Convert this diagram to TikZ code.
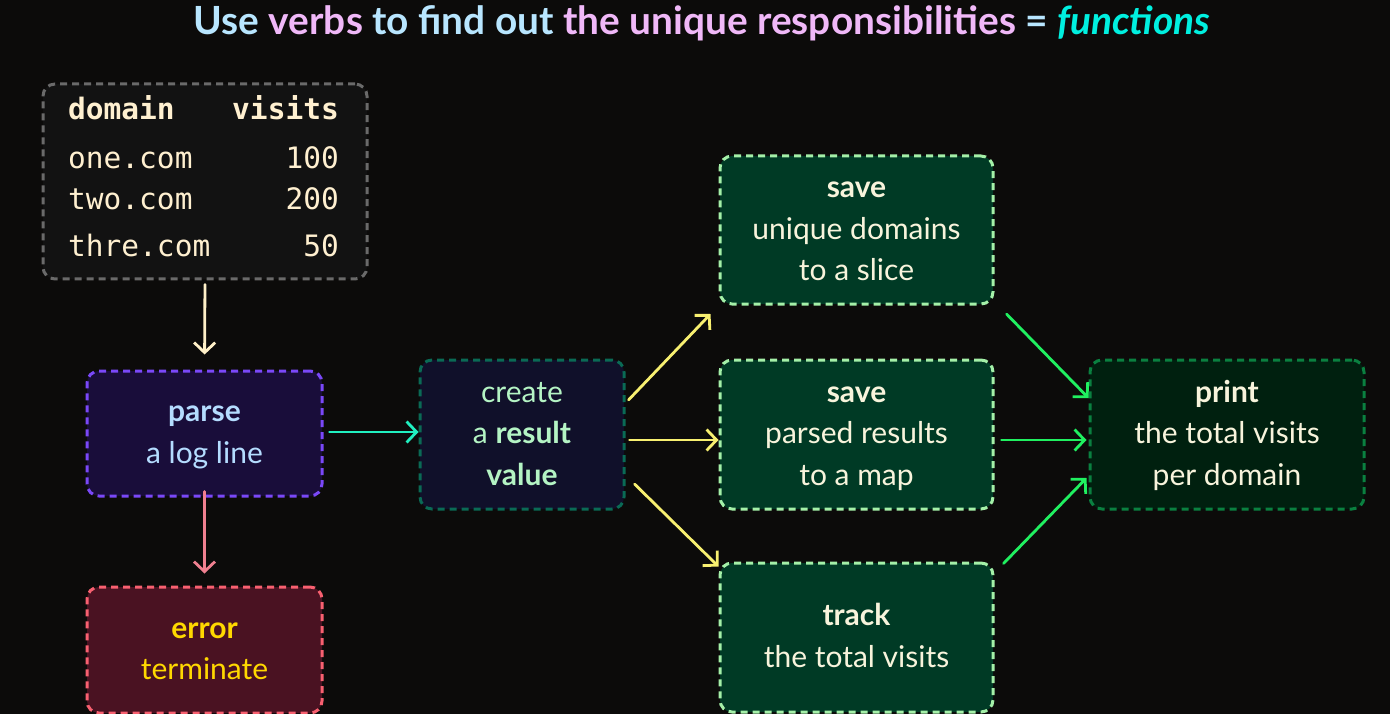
\documentclass[tikz,border=0pt]{standalone}
\usepackage{fontspec}
\setmainfont{Lato}
\setmonofont{DejaVu Sans Mono}
\usetikzlibrary{arrows.meta,calc}
\definecolor{bg}{HTML}{0C0B0A}
\definecolor{tblue}{HTML}{B8E6FF}
\definecolor{tpink}{HTML}{F0B8F8}
\definecolor{tcyan}{HTML}{00F0E0}
\definecolor{cream}{HTML}{FFF0D0}
\definecolor{tblfill}{HTML}{121212}
\definecolor{tblborder}{HTML}{6A6A6A}
\definecolor{parsefill}{HTML}{190D3A}
\definecolor{parseborder}{HTML}{7A48F8}
\definecolor{parsetext}{HTML}{B4DCFF}
\definecolor{errfill}{HTML}{4A1222}
\definecolor{errborder}{HTML}{F86070}
\definecolor{errtext}{HTML}{FFD800}
\definecolor{crfill}{HTML}{10102A}
\definecolor{crborder}{HTML}{0A6A55}
\definecolor{crtext}{HTML}{B4F4C4}
\definecolor{svfill}{HTML}{003A25}
\definecolor{svborder}{HTML}{A4F0A8}
\definecolor{svtext}{HTML}{F8F4DC}
\definecolor{prfill}{HTML}{00200F}
\definecolor{prborder}{HTML}{0A8040}
\definecolor{acream}{HTML}{FFF0C8}
\definecolor{apink}{HTML}{F08090}
\definecolor{acyan}{HTML}{20F0C0}
\definecolor{ayellow}{HTML}{F8F070}
\definecolor{agreen}{HTML}{20F060}
\newcommand{\topstrut}{\rule{0pt}{27pt}}
\newcommand{\botstrut}{\rule[-9pt]{0pt}{9pt}}
\begin{document}
\begin{tikzpicture}[x=1pt,y=-1pt,
  box/.style={draw, line width=3pt, dash pattern=on 7pt off 5pt, rounded corners=12pt,
    align=center, inner sep=0pt, font=\fontsize{30}{41.5}\selectfont},
  conn/.style={line width=2.8pt, line cap=round, -{Straight Barb[length=10pt,width=21pt,line width=2.8pt]}},
  tbl/.style={font=\ttfamily\fontsize{29.5}{30}\selectfont, text=cream, inner sep=0pt}]
\fill[bg] (0,0) rectangle (1390,714);
\useasboundingbox (0,0) rectangle (1390,714);
% title
\node[font=\bfseries\fontsize{38.8}{42}\selectfont, inner sep=0pt] (title) at (702,23)
  {\textcolor{tblue}{Use} \textcolor{tpink}{verbs} \textcolor{tblue}{to find out} \textcolor{tpink}{the unique responsibilities} \textcolor{tblue}{=} \textcolor{tcyan}{\itshape functions}};
% table
\node[box, draw=tblborder, fill=tblfill, minimum width=324pt, minimum height=195pt] (table) at (205,181.5) {};
\node[tbl, anchor=base west, font=\ttfamily\bfseries\fontsize{29.5}{30}\selectfont] (h1) at (68,120) {domain};
\node[tbl, anchor=base east, font=\ttfamily\bfseries\fontsize{29.5}{30}\selectfont] (h2) at (339,120) {visits};
\node[tbl, anchor=base west] (r1a) at (68,169) {one.com};
\node[tbl, anchor=base east] (r1b) at (339,169) {100};
\node[tbl, anchor=base west] (r2a) at (68,210) {two.com};
\node[tbl, anchor=base east] (r2b) at (339,210) {200};
\node[tbl, anchor=base west] (r3a) at (68,257) {thre.com};
\node[tbl, anchor=base east] (r3b) at (339,257) {50};
% boxes
\node[box, draw=parseborder, fill=parsefill, text=parsetext, minimum width=235pt, minimum height=125pt] (parse) at (204.5,433.5) {\topstrut\textbf{parse}\\a log line\botstrut};
\node[box, draw=errborder, fill=errfill, text=errtext, minimum width=235pt, minimum height=126pt] (error) at (204.5,650) {\topstrut\textbf{error}\\terminate\botstrut};
\node[box, draw=crborder, fill=crfill, text=crtext, minimum width=204pt, minimum height=149pt] (create) at (522,434.5) {\topstrut create\\a \textbf{result}\\\textbf{value}\botstrut};
\node[box, draw=svborder, fill=svfill, text=svtext, minimum width=273pt, minimum height=148pt] (save1) at (856.5,230) {\topstrut\textbf{save}\\unique domains\\to a slice\botstrut};
\node[box, draw=svborder, fill=svfill, text=svtext, minimum width=273pt, minimum height=149pt] (save2) at (856.5,434.5) {\topstrut\textbf{save}\\parsed results\\to a map\botstrut};
\node[box, draw=svborder, fill=svfill, text=svtext, minimum width=273pt, minimum height=149pt] (track) at (856.5,637.5) {\topstrut\textbf{track}\\the total visits\botstrut};
\node[box, draw=prborder, fill=prfill, text=svtext, minimum width=274pt, minimum height=149pt] (print) at (1227,434.5) {\topstrut\textbf{print}\\the total visits\\per domain\botstrut};
% connectors
\draw[conn, acream, shorten <=4pt, shorten >=15pt] (table.south) -- (parse.north);
\draw[conn, apink, shorten <=-6pt, shorten >=12pt] (parse.south) -- (error.north);
\draw[conn, acyan, shorten <=6pt] ($(parse.east)+(0,-1.5)$) -- ($(create.west)+(0,-2.5)$);
\draw[conn, ayellow] ($(create.east)+(3,-34.5)$) -- ($(save1.south west)+(-8,8.5)$);
\draw[conn, ayellow] ($(create.east)+(4,5.5)$) -- ($(save2.west)+(0,5.5)$);
\draw[conn, ayellow] ($(create.east)+(9,49.5)$) -- ($(track.north west)+(0,5)$);
\draw[conn, agreen] ($(save1.south east)+(12,8.5)$) -- ($(print.west)+(0,-36.5)$);
\draw[conn, agreen] ($(save2.east)+(7,5.5)$) -- ($(print.west)+(-2,5.5)$);
\draw[conn, agreen] ($(track.north east)+(9,2)$) -- ($(print.west)+(-2,43.5)$);
\end{tikzpicture}
\end{document}
